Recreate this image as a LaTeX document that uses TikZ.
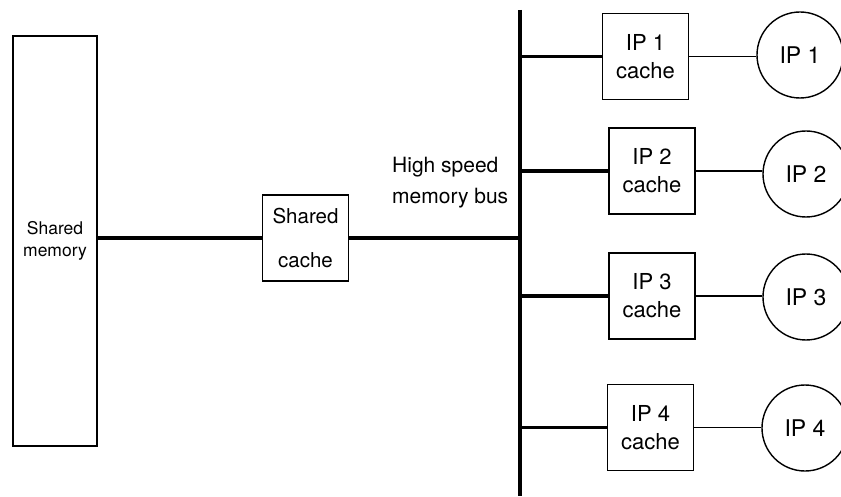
\documentclass[tikz,border=0pt]{standalone}
\usepackage{fontspec}
\setmainfont{TeX Gyre Heros}
\begin{document}
\begin{tikzpicture}[x=1pt,y=-1pt,
  box/.style={draw,line width=1.6pt,rectangle,minimum width=86pt,minimum height=86pt,inner sep=0pt,align=center,font=\fontsize{22}{28}\selectfont},
  ipc/.style={draw,line width=1.4pt,circle,minimum size=86pt,inner sep=0pt,font=\fontsize{23}{26}\selectfont},
  thick/.style={line width=3.2pt},
  thin/.style={line width=1.4pt}]
\useasboundingbox (0,0) rectangle (841,497);
\node[draw,line width=1.6pt,minimum width=84pt,minimum height=410pt,inner sep=0pt,align=center,font=\fontsize{17.5}{22}\selectfont] (sm) at (55,241) {Shared\\memory};
\node[box,font=\fontsize{20.5}{28}\selectfont] (sc) at (305.5,238) {Shared\\[16pt]cache};
\node[anchor=west,align=left,inner sep=0pt,font=\fontsize{21}{31}\selectfont] (lbl) at (392,183) {High speed\\memory bus};
\coordinate (bt) at (520,10);
\coordinate (bb) at (520,496);
\draw[line width=4pt] (bt) -- (bb);
\draw[thick] (sc.west) -- (sc.west -| sm.east);
\draw[thick] (sc.east) -- (sc.east -| bt);
\node[box] (c1) at (645.5,56.5) {IP 1\\cache};
\node[box] (c2) at (652,171) {IP 2\\cache};
\node[box] (c3) at (652,296) {IP 3\\cache};
\node[box] (c4) at (650.5,427.5) {IP 4\\cache};
\node[ipc] (p1) at (800,55) {IP 1};
\node[ipc] (p2) at (806,174) {IP 2};
\node[ipc] (p3) at (806,297) {IP 3};
\node[ipc] (p4) at (805,428) {IP 4};
\foreach \i in {1,2,3,4}{
  \draw[thick] (c\i.west -| bt) -- (c\i.west);
  \draw[thin] (c\i.east) -- (c\i.east -| p\i.west);
}
\end{tikzpicture}
\end{document}
